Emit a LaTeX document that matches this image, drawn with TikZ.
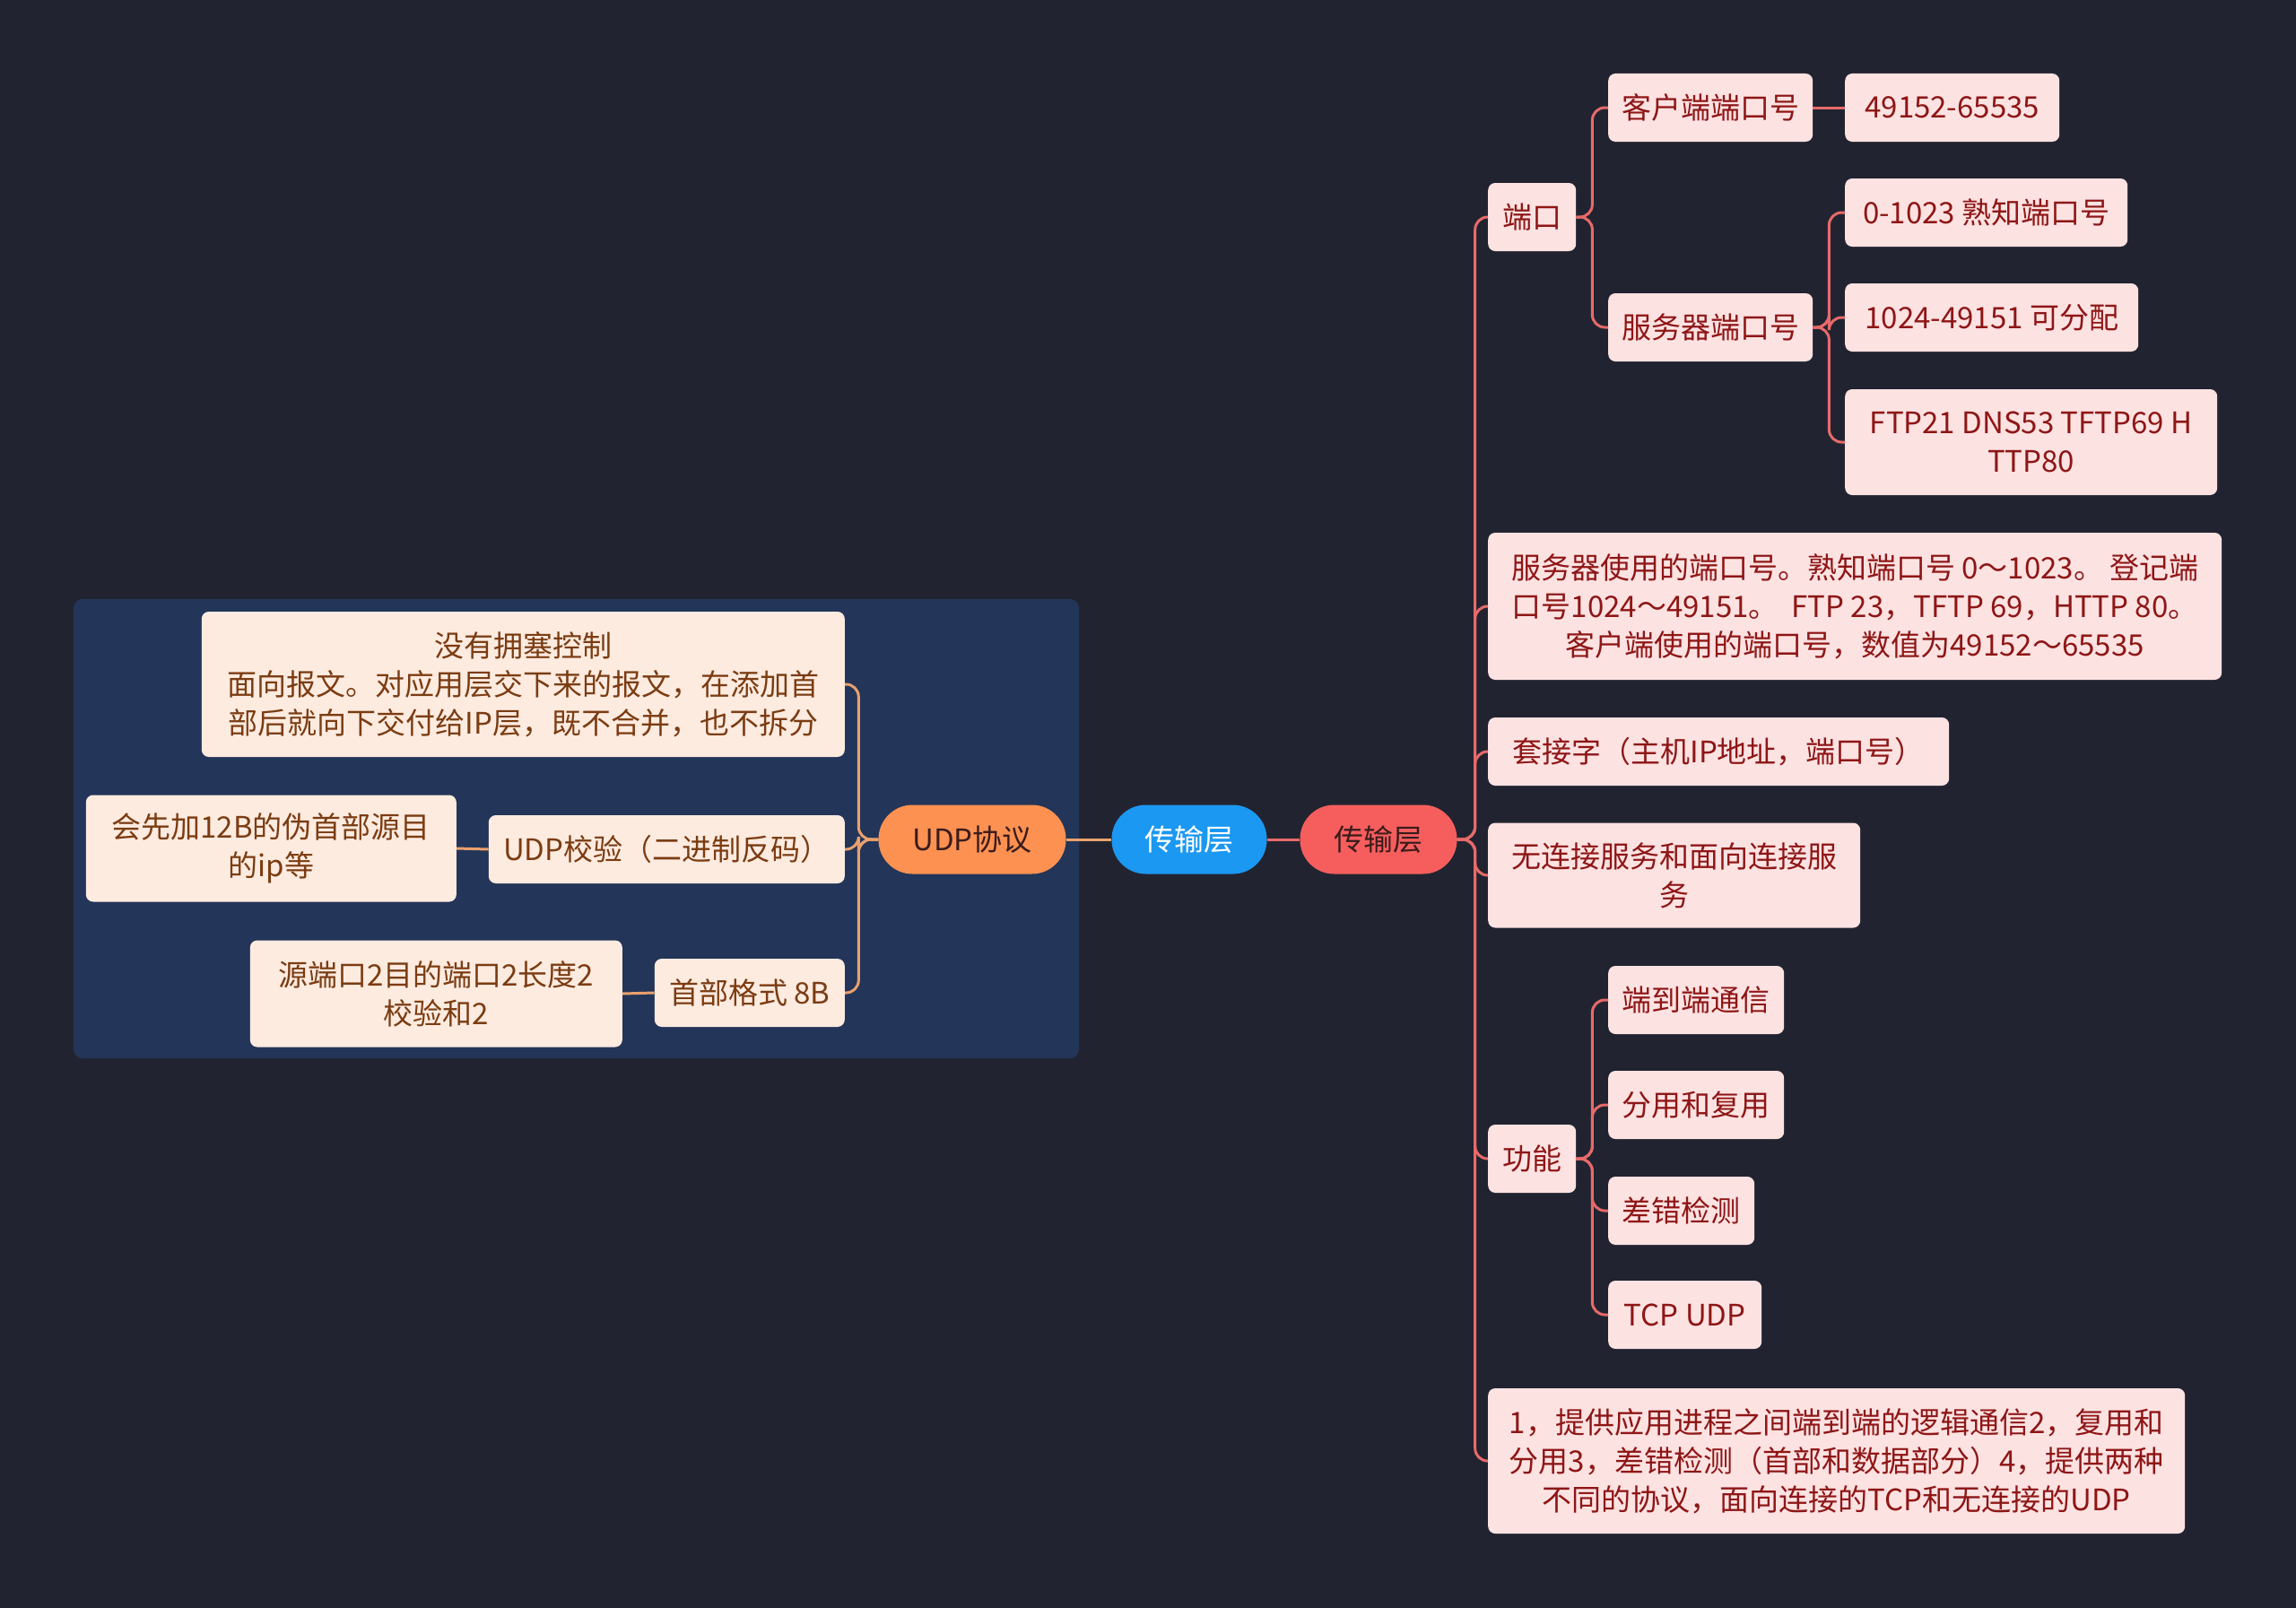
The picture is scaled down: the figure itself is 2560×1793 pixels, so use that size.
\documentclass[tikz,border=0pt]{standalone}
\usepackage{fontspec}
\usepackage{xcolor}
\usepackage{tikz}
\usetikzlibrary{positioning, calc}
\newfontfamily\cjkfont{Noto Sans CJK SC}
\definecolor{fundo}{RGB}{33, 36, 48}
\definecolor{caixaudp}{RGB}{35, 53, 88}
\definecolor{raizverm}{RGB}{246, 94, 94}
\definecolor{raiztexto}{RGB}{58, 28, 28}
\definecolor{raizazul}{RGB}{27, 152, 241}
\definecolor{raizlaranja}{RGB}{253, 145, 82}
\definecolor{rosafundo}{RGB}{253, 226, 226}
\definecolor{rosatexto}{RGB}{142, 22, 22}
\definecolor{rosalinha}{RGB}{231, 106, 106}
\definecolor{pessegofundo}{RGB}{253, 235, 224}
\definecolor{pessegotexto}{RGB}{123, 60, 18}
\definecolor{pessegolinha}{RGB}{233, 161, 109}

\begin{document}
\begin{tikzpicture}[x=1pt, y=-1pt, font=\cjkfont\fontsize{33}{43}\selectfont,
  raiz/.style={rounded corners=38pt, minimum height=77pt, inner sep=0pt},
  folharosa/.style={fill=rosafundo, text=rosatexto, rounded corners=8pt, minimum height=76pt, inner sep=0pt, align=center, anchor=west},
  folhapessego/.style={fill=pessegofundo, text=pessegotexto, rounded corners=8pt, minimum height=76pt, inner sep=0pt, align=center, anchor=east},
  linharosa/.style={draw=rosalinha, line width=3pt, rounded corners=14pt},
  linhapessego/.style={draw=pessegolinha, line width=3pt, rounded corners=14pt}]

  % --- Fundo e moldura do grupo UDP ---
  \useasboundingbox (0,0) rectangle (2560,1793);
  \fill[fundo] (0,0) rectangle (2560,1793);
  \fill[caixaudp, rounded corners=10pt] (82,668) rectangle (1203,1180);

  % --- Centro: raiz e ramo azul ---
  \node[raiz, fill=raizverm, text=raiztexto, minimum width=175pt] (raiz) at (1537,936) {传输层};
  \node[raiz, fill=raizazul, text=white, minimum width=173pt] (transporte) at (1326,936) {传输层};
  \node[raiz, fill=raizlaranja, text=raiztexto, minimum width=209pt] (udp) at (1084,936) {UDP协议};

  % --- Lado direito: portas ---
  \node[folharosa, minimum width=98pt] (porta) at (1659,242) {端口};
  \node[folharosa, minimum width=228pt] (cliente) at (1793,120) {客户端端口号};
  \node[folharosa, minimum width=239pt] (faixacli) at (2057,120) {49152-65535};
  \node[folharosa, minimum width=228pt] (servidor) at (1793,365) {服务器端口号};
  \node[folharosa, minimum width=315pt] (conhecidas) at (2057,237) {0-1023 熟知端口号};
  \node[folharosa, minimum width=327pt] (registradas) at (2057,354) {1024-49151 可分配};
  \node[folharosa, minimum width=415pt, minimum height=118pt] (exemplos) at (2057,493) {FTP21 DNS53 TFTP69 H\\TTP80};

  % Textos longos do lado direito
  \node[folharosa, minimum width=818pt, minimum height=164pt] (resumo) at (1659,676)
    {服务器使用的端口号。熟知端口号 0～1023。 登记端\\口号1024～49151。 \ FTP 23，TFTP 69，HTTP 80。\\客户端使用的端口号，数值为49152～65535};
  \node[folharosa, minimum width=514pt] (socket) at (1659,838) {套接字（主机IP地址，端口号）};
  \node[folharosa, minimum width=415pt, minimum height=117pt] (servicos) at (1659,976) {无连接服务和面向连接服\\务};

  % --- Lado direito: funções ---
  \node[folharosa, minimum width=98pt] (funcao) at (1659,1292) {功能};
  \node[folharosa, minimum width=196pt] (fimafim) at (1793,1115) {端到端通信};
  \node[folharosa, minimum width=196pt] (multiplex) at (1793,1232) {分用和复用};
  \node[folharosa, minimum width=163pt] (erros) at (1793,1350) {差错检测};
  \node[folharosa, minimum width=171pt] (protocolos) at (1793,1466) {TCP UDP};
  \node[folharosa, minimum width=777pt, minimum height=162pt] (detalhes) at (1659,1629)
    {1，提供应用进程之间端到端的逻辑通信2，复用和\\分用3，差错检测（首部和数据部分）4，提供两种\\不同的协议，面向连接的TCP和无连接的UDP};

  % --- Lado esquerdo: UDP ---
  \node[folhapessego, minimum width=717pt, minimum height=162pt] (semcontrole) at (942,763)
    {没有拥塞控制\\面向报文。对应用层交下来的报文，在添加首\\部后就向下交付给IP层，既不合并，也不拆分};
  \node[folhapessego, minimum width=397pt] (verificacao) at (942,947) {UDP校验（二进制反码）};
  \node[folhapessego, minimum width=413pt, minimum height=119pt] (pseudo) at (509,946) {会先加12B的伪首部源目\\的ip等};
  \node[folhapessego, minimum width=212pt] (cabecalho) at (942,1107) {首部格式 8B};
  \node[folhapessego, minimum width=415pt, minimum height=119pt] (campos) at (694,1108) {源端口2目的端口2长度2\\校验和2};

  % Ligações do centro
  \draw[draw=rosalinha, line width=3pt] (transporte.east) -- (raiz.west);
  \draw[draw=pessegolinha, line width=3pt] (udp.east) -- (transporte.west);

  % Ligações da direita
  \foreach \filho in {porta, resumo, socket, servicos, funcao, detalhes}
    \draw[linharosa] (raiz.east) -- ++(20,0) |- (\filho.west);
  \foreach \filho in {cliente, servidor}
    \draw[linharosa] (porta.east) -- ++(18,0) |- (\filho.west);
  \draw[linharosa] (cliente.east) -- (faixacli.west);
  \foreach \filho in {conhecidas, registradas, exemplos}
    \draw[linharosa] (servidor.east) -- ++(18,0) |- (\filho.west);
  \foreach \filho in {fimafim, multiplex, erros, protocolos}
    \draw[linharosa] (funcao.east) -- ++(18,0) |- (\filho.west);

  % Ligações da esquerda
  \foreach \filho in {semcontrole, verificacao, cabecalho}
    \draw[linhapessego] (udp.west) -- ++(-22,0) |- (\filho.east);
  \draw[linhapessego] (verificacao.west) -- (pseudo.east);
  \draw[linhapessego] (cabecalho.west) -- (campos.east);

\end{tikzpicture}
\end{document}
